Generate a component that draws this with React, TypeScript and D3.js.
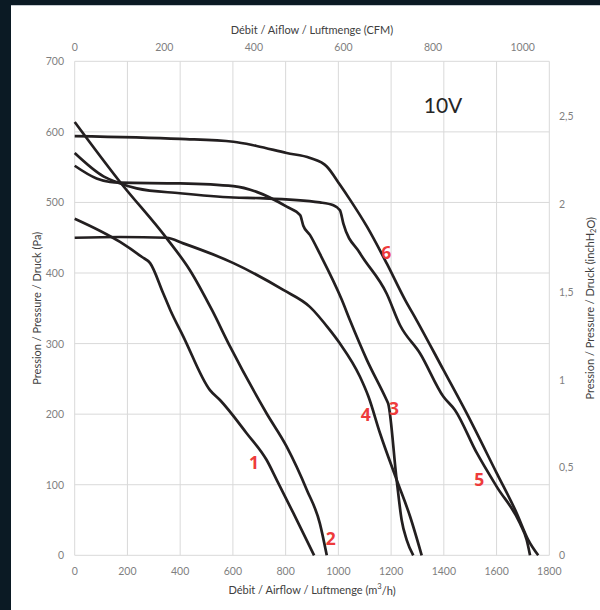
import * as d3 from "d3";

type Pt = [number, number];

// airflow (m³/h), pressure (Pa)
const curve1: Pt[] = [
  [0, 477], [172, 444], [254, 423], [286, 414], [336, 371], [362, 348], [412, 310],
  [513, 234], [551, 220], [652, 173], [728, 135], [766, 107], [829, 60], [908, 0],
];
const curve2: Pt[] = [
  [0, 614], [172, 529], [349, 449], [437, 404], [520, 348], [589, 296], [728, 201],
  [804, 154], [880, 93], [930, 45], [956, 0],
];
const curve3: Pt[] = [
  [0, 552], [83, 534], [134, 529], [172, 528], [399, 527], [602, 523], [690, 515],
  [804, 494], [855, 482], [867, 467], [892, 454], [930, 427], [1013, 362],
  [1044, 333], [1108, 277], [1183, 220], [1189, 215], [1221, 107], [1240, 50],
  [1259, 22], [1284, 0],
];
const curve4: Pt[] = [
  [0, 450], [172, 451], [349, 450], [412, 442], [602, 414], [791, 376], [892, 352],
  [968, 319], [1006, 300], [1082, 253], [1114, 225], [1158, 173], [1221, 107],
  [1272, 55], [1316, 0],
];
const curve5: Pt[] = [
  [0, 570], [109, 537], [165, 528], [235, 520], [399, 513], [602, 507], [703, 506],
  [930, 500], [981, 496], [1006, 489], [1019, 470], [1082, 428], [1183, 371],
  [1234, 326], [1310, 286], [1398, 225], [1442, 206], [1525, 145], [1601, 97],
  [1689, 45], [1714, 22], [1727, 0],
];
const curve6: Pt[] = [
  [0, 594], [399, 590], [602, 586], [690, 580], [804, 570], [893, 563], [956, 551],
  [1006, 525], [1044, 504], [1108, 466], [1183, 414], [1253, 362], [1297, 333],
  [1398, 263], [1487, 201], [1601, 116], [1676, 60], [1720, 22], [1758, 0],
];

const curves = [curve1, curve2, curve3, curve4, curve5, curve6];

// label anchors for the curve numbers (m³/h, Pa)
const curveLabels = [
  { text: "1", q: 680, p: 132 },
  { text: "2", q: 971, p: 24 },
  { text: "3", q: 1211, p: 209 },
  { text: "4", q: 1104, p: 200 },
  { text: "5", q: 1534, p: 108 },
  { text: "6", q: 1182, p: 430 },
];

const xTicks = [0, 200, 400, 600, 800, 1000, 1200, 1400, 1600, 1800];
const yTicks = [0, 100, 200, 300, 400, 500, 600, 700];
const cfmTicks = [0, 200, 400, 600, 800, 1000];
const inchTicks = [0, 0.5, 1, 1.5, 2, 2.5];

const CFM = 1.69901;
const INCH = 249.089;

const WIDTH = 600;
const HEIGHT = 610;
const LEFT = 74.7;
const RIGHT = 549.3;
const TOP = 61.3;
const BOTTOM = 555.3;

const FONT = "Lato, 'Open Sans', sans-serif";

export default function App() {
  const x = d3.scaleLinear().domain([0, 1800]).range([LEFT, RIGHT]);
  const y = d3.scaleLinear().domain([0, 700]).range([BOTTOM, TOP]);
  const line = d3
    .line<Pt>()
    .x((d) => x(d[0]))
    .y((d) => y(d[1]))
    .curve(d3.curveMonotoneX);
  const midX = (LEFT + RIGHT) / 2;
  const midY = (TOP + BOTTOM) / 2;
  const comma = (v: number) => String(v).replace(".", ",");

  return (
    <svg
      width={WIDTH}
      height={HEIGHT}
      style={{ position: "absolute", left: 0, top: 0 }}
      fontFamily={FONT}
    >
      <rect width={WIDTH} height={HEIGHT} fill="#0b1a24" />
      <rect x={11} y={5} width={WIDTH - 11} height={HEIGHT - 5} fill="#ffffff" />
      <line x1={11} x2={WIDTH} y1={5.5} y2={5.5} stroke="#c4cad0" />

      {xTicks.map((t) => (
        <line key={`gx${t}`} x1={x(t)} x2={x(t)} y1={TOP} y2={BOTTOM} stroke="#d9d9d9" strokeWidth={1} />
      ))}
      {yTicks.map((t) => (
        <line key={`gy${t}`} x1={LEFT} x2={RIGHT} y1={y(t)} y2={y(t)} stroke="#d9d9d9" strokeWidth={1} />
      ))}

      {xTicks.map((t) => (
        <text key={`tx${t}`} x={x(t)} y={571} fontSize={10.5} fill="#7f7f7f" textAnchor="middle" dominantBaseline="central">
          {t}
        </text>
      ))}
      {yTicks.map((t) => (
        <text key={`ty${t}`} x={64} y={y(t)} fontSize={10.5} fill="#7f7f7f" textAnchor="end" dominantBaseline="central">
          {t}
        </text>
      ))}
      {cfmTicks.map((t) => (
        <text key={`tc${t}`} x={x(t * CFM)} y={47} fontSize={10.5} fill="#7f7f7f" textAnchor="middle" dominantBaseline="central">
          {t}
        </text>
      ))}
      {inchTicks.map((t) => (
        <text key={`ti${t}`} x={559} y={y(t * INCH)} fontSize={10.5} fill="#7f7f7f" textAnchor="start" dominantBaseline="central">
          {comma(t)}
        </text>
      ))}

      <text x={midX} y={29.5} fontSize={11} fill="#404040" textAnchor="middle" dominantBaseline="central">
        Débit / Aiflow / Luftmenge (CFM)
      </text>
      <text x={midX} y={589.5} fontSize={11} fill="#404040" textAnchor="middle" dominantBaseline="central">
        Débit / Airflow / Luftmenge (m<tspan dy={-4} fontSize={7.5}>3</tspan><tspan dy={4}>/h)</tspan>
      </text>
      <text
        x={37}
        y={midY}
        fontSize={11}
        fill="#404040"
        textAnchor="middle"
        dominantBaseline="central"
        transform={`rotate(-90 37 ${midY})`}
      >
        Pression / Pressure / Druck (Pa)
      </text>
      <text
        x={590}
        y={midY}
        fontSize={11}
        fill="#404040"
        textAnchor="middle"
        dominantBaseline="central"
        transform={`rotate(-90 590 ${midY})`}
      >
        Pression / Pressure / Druck (inchH<tspan dy={3} fontSize={7.5}>2</tspan><tspan dy={-3}>O)</tspan>
      </text>

      <text x={443} y={104} fontSize={21} fill="#262626" textAnchor="middle" dominantBaseline="central">
        10V
      </text>

      {curves.map((c, i) => (
        <path key={`c${i}`} d={line(c) ?? undefined} fill="none" stroke="#231f20" strokeWidth={2.7} strokeLinejoin="round" />
      ))}

      {curveLabels.map((l) => (
        <text
          key={`l${l.text}`}
          x={x(l.q)}
          y={y(l.p)}
          fontSize={17.5}
          fontWeight={700}
          fill="#ee3b3b"
          textAnchor="middle"
          dominantBaseline="central"
          fontFamily="'Open Sans', sans-serif"
        >
          {l.text}
        </text>
      ))}
    </svg>
  );
}
